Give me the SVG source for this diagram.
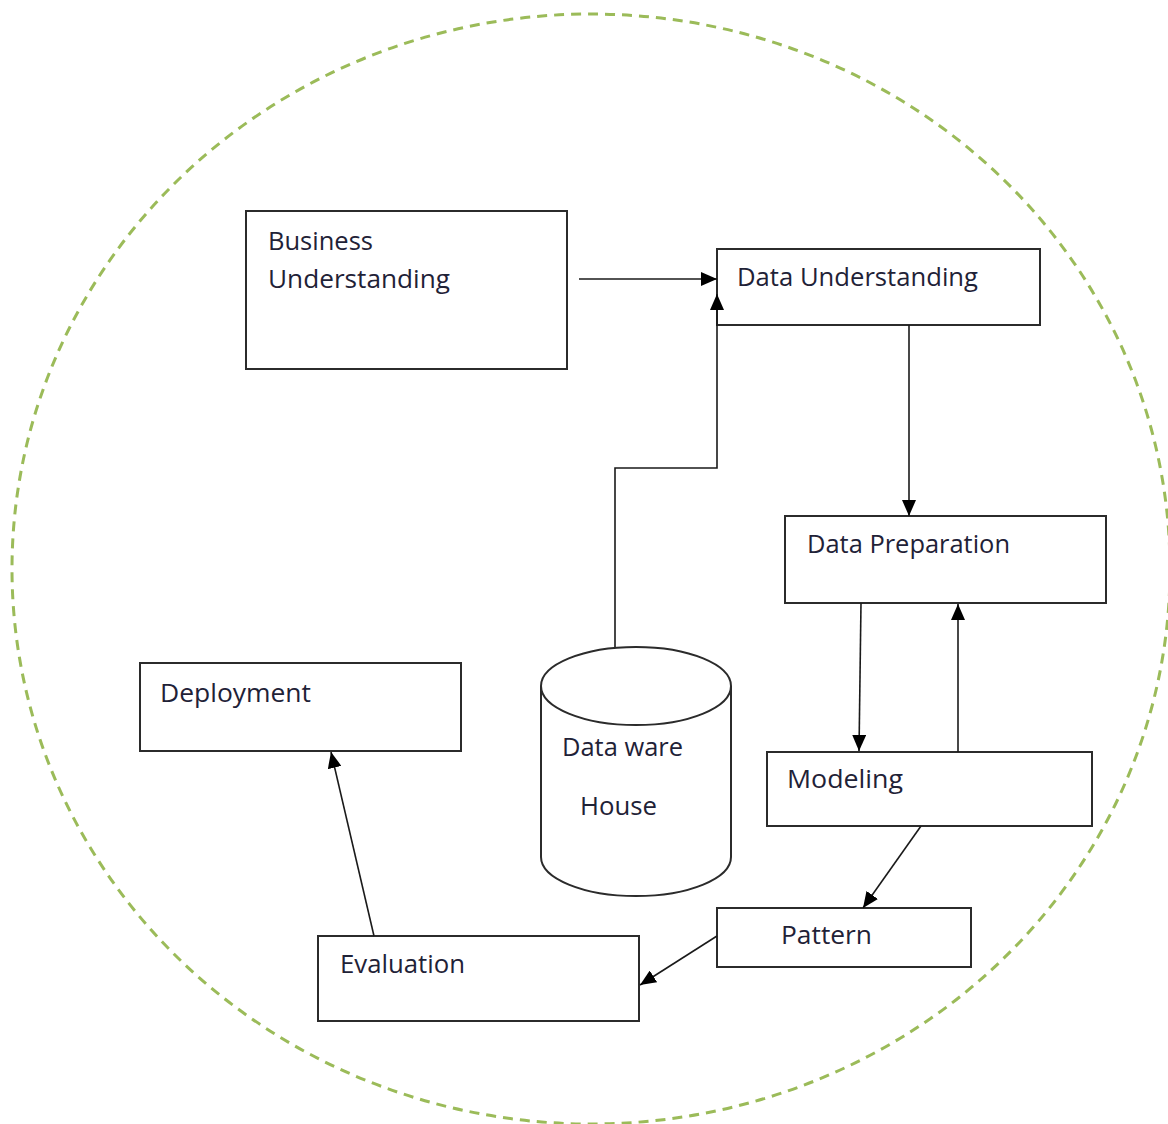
<svg xmlns="http://www.w3.org/2000/svg" width="1168" height="1124" viewBox="0 0 1168 1124">
<defs>
<style>
.box{fill:#fff;stroke:#2b2b2b;stroke-width:2}
.lbl{font-family:"Open Sans","Liberation Sans",sans-serif;font-size:25px;fill:#1f2237}
.con{fill:none;stroke:#1a1a1a;stroke-width:1.6}
</style>
<marker id="ah" markerUnits="userSpaceOnUse" markerWidth="16" markerHeight="14" viewBox="0 0 16 14" refX="16" refY="7" orient="auto">
<path d="M0,0 L16,7 L0,14 Z" fill="#000"/>
</marker>
</defs>
<rect width="1168" height="1124" fill="#fff"/>
<ellipse cx="591" cy="569" rx="579" ry="555" fill="none" stroke="#9bbb59" stroke-width="3" stroke-dasharray="10 7"/>
<g id="business-understanding">
<rect class="box" x="246" y="211" width="321" height="158"/>
<text class="lbl" x="268" y="250" textLength="105" lengthAdjust="spacingAndGlyphs">Business</text>
<text class="lbl" x="268" y="288" textLength="182" lengthAdjust="spacingAndGlyphs">Understanding</text>
</g>
<g id="data-understanding">
<rect class="box" x="717" y="249" width="323" height="76"/>
<text class="lbl" x="737" y="286" textLength="241" lengthAdjust="spacingAndGlyphs">Data Understanding</text>
</g>
<g id="data-preparation">
<rect class="box" x="785" y="516" width="321" height="87"/>
<text class="lbl" x="807" y="553" textLength="203" lengthAdjust="spacingAndGlyphs">Data Preparation</text>
</g>
<g id="deployment">
<rect class="box" x="140" y="663" width="321" height="88"/>
<text class="lbl" x="160" y="702" textLength="151" lengthAdjust="spacingAndGlyphs">Deployment</text>
</g>
<g id="modeling">
<rect class="box" x="767" y="752" width="325" height="74"/>
<text class="lbl" x="787" y="788" textLength="116" lengthAdjust="spacingAndGlyphs">Modeling</text>
</g>
<g id="pattern">
<rect class="box" x="717" y="908" width="254" height="59"/>
<text class="lbl" x="781" y="944" textLength="91" lengthAdjust="spacingAndGlyphs">Pattern</text>
</g>
<g id="evaluation">
<rect class="box" x="318" y="936" width="321" height="85"/>
<text class="lbl" x="340" y="973" textLength="125" lengthAdjust="spacingAndGlyphs">Evaluation</text>
</g>
<g id="data-warehouse">
<path class="box" d="M541,686 L541,857 A95,39 0 0 0 731,857 L731,686 A95,39 0 0 0 541,686 Z"/>
<path d="M541,686 A95,39 0 0 0 731,686" fill="none" stroke="#2b2b2b" stroke-width="2"/>
<text class="lbl" x="562" y="756" textLength="121" lengthAdjust="spacingAndGlyphs">Data ware</text>
<text class="lbl" x="580" y="815" textLength="77" lengthAdjust="spacingAndGlyphs">House</text>
</g>
<g id="connectors">
<line class="con" x1="579" y1="279" x2="717" y2="279" marker-end="url(#ah)"/>
<polyline class="con" points="615,647 615,468 717,468 717,294" marker-end="url(#ah)"/>
<line class="con" x1="909" y1="325" x2="909" y2="516" marker-end="url(#ah)"/>
<line class="con" x1="861" y1="603" x2="859" y2="751" marker-end="url(#ah)"/>
<line class="con" x1="958" y1="752" x2="958" y2="604" marker-end="url(#ah)"/>
<line class="con" x1="921" y1="826" x2="863" y2="908" marker-end="url(#ah)"/>
<line class="con" x1="717" y1="936" x2="640" y2="985" marker-end="url(#ah)"/>
<line class="con" x1="374" y1="936" x2="331" y2="752" marker-end="url(#ah)"/>
</g>
</svg>
